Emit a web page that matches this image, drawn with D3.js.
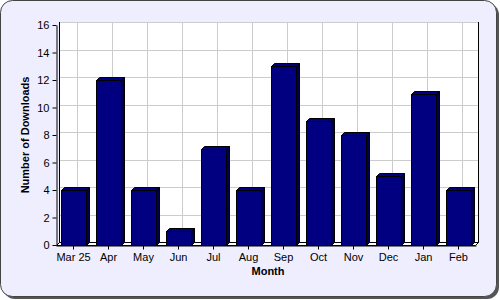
<!DOCTYPE html>
<html>
<head>
<meta charset="utf-8">
<script src="https://cdn.jsdelivr.net/npm/d3@7"></script>
<style>
  body { margin: 0; background: #fff; }
  svg { display: block; }
  text { font-family: "Liberation Sans", Arial, sans-serif; }
</style>
</head>
<body>
<div id="chart"></div>
<script>
var months = ["Mar 25", "Apr", "May", "Jun", "Jul", "Aug", "Sep", "Oct", "Nov", "Dec", "Jan", "Feb"];
var downloads = [4, 12, 4, 1, 7, 4, 13, 9, 8, 5, 11, 4];
var yTicks = [0, 2, 4, 6, 8, 10, 12, 14, 16];

var W = 500, H = 300;
var plotLeft = 56, plotRight = 476, plotTop = 25, plotBottom = 245;
var depth = 3;

var svg = d3.select("#chart").append("svg")
  .attr("width", W)
  .attr("height", H);

// frame with shadow
svg.append("rect")
  .attr("x", 3).attr("y", 3).attr("width", 496).attr("height", 296)
  .attr("rx", 12).attr("fill", "#555");
svg.append("rect")
  .attr("x", 0.5).attr("y", 0.5).attr("width", 496).attr("height", 296)
  .attr("rx", 12).attr("fill", "#eeeeff").attr("stroke", "#444").attr("stroke-width", 1);

var x = d3.scaleBand().domain(months).range([plotLeft, plotRight]).paddingInner(0.26).paddingOuter(0.13);
var xc = d3.scaleBand().domain(months).range([plotLeft, plotRight]);
var y = d3.scaleLinear().domain([0, 16]).range([plotBottom, plotTop]);

// back wall
svg.append("rect")
  .attr("x", plotLeft + depth + 0.5).attr("y", plotTop - depth + 0.5)
  .attr("width", plotRight - plotLeft - depth + 2).attr("height", plotBottom - plotTop)
  .attr("fill", "#fff").attr("stroke", "#000");

// grid
svg.append("g").selectAll("line").data(yTicks.slice(1))
  .enter().append("line")
  .attr("x1", plotLeft + depth + 1).attr("x2", plotRight + 2)
  .attr("y1", function(d){ return Math.round(y(d)) - depth + 0.5; })
  .attr("y2", function(d){ return Math.round(y(d)) - depth + 0.5; })
  .attr("stroke", "#cccccc");
svg.append("g").selectAll("line").data(months)
  .enter().append("line")
  .attr("x1", function(d){ return Math.round(xc(d) + xc.bandwidth() / 2) + depth + 0.5; })
  .attr("x2", function(d){ return Math.round(xc(d) + xc.bandwidth() / 2) + depth + 0.5; })
  .attr("y1", plotTop - depth + 1).attr("y2", plotBottom - depth)
  .attr("stroke", "#cccccc");

// floor
svg.append("path")
  .attr("d", "M" + (plotLeft + 0.5) + "," + (plotBottom + 0.5) + "L" + (plotLeft + depth + 0.5) + "," + (plotBottom - depth + 0.5) +
    "L" + (plotRight + 2.5) + "," + (plotBottom - depth + 0.5) + "L" + (plotRight - 0.5) + "," + (plotBottom + 0.5) + "Z")
  .attr("fill", "#fff").attr("stroke", "#000");

// bars
var bars = svg.append("g").selectAll("g").data(months).enter().append("g");
bars.each(function(m, i){
  var g = d3.select(this);
  var x0 = Math.round(x(m)) + 0.5, x1 = Math.round(x(m) + x.bandwidth()) + 0.5;
  var yt = Math.round(y(downloads[i])) + 0.5, yb = plotBottom + 0.5;
  // side
  g.append("path")
    .attr("d", "M" + x1 + "," + yt + "L" + (x1 + depth) + "," + (yt - depth) + "L" + (x1 + depth) + "," + (yb - depth) + "L" + x1 + "," + yb + "Z")
    .attr("fill", "#000050").attr("stroke", "#000");
  // top
  g.append("path")
    .attr("d", "M" + x0 + "," + yt + "L" + (x0 + depth) + "," + (yt - depth) + "L" + (x1 + depth) + "," + (yt - depth) + "L" + x1 + "," + yt + "Z")
    .attr("fill", "#000080").attr("stroke", "#000");
  // front
  g.append("rect")
    .attr("x", x0).attr("y", yt).attr("width", x1 - x0).attr("height", yb - yt)
    .attr("fill", "#000080").attr("stroke", "#000");
});

// axes
var yAxis = d3.axisLeft(y).tickValues(yTicks).tickSize(4).tickSizeOuter(0).tickPadding(3);
var gy = svg.append("g").attr("transform", "translate(" + (plotLeft + 0.5) + ",0)").call(yAxis);
var xAxis = d3.axisBottom(xc).tickSize(4).tickSizeOuter(0).tickPadding(4);
var gx = svg.append("g").attr("transform", "translate(0," + (plotBottom + 0.5) + ")").call(xAxis);
[gy, gx].forEach(function(g){
  g.selectAll("path").attr("stroke", "#000");
  g.selectAll("line").attr("stroke", "#000");
  g.selectAll("text").attr("fill", "#000").style("font-size", "11px")
    .style("font-family", "'Liberation Sans', Arial, sans-serif");
});

// axis titles
svg.append("text")
  .attr("transform", "translate(29," + ((plotTop + plotBottom) / 2) + ") rotate(-90)")
  .attr("text-anchor", "middle")
  .style("font-size", "11px").style("font-weight", "bold")
  .text("Number of Downloads");
svg.append("text")
  .attr("x", (plotLeft + plotRight) / 2 + 2).attr("y", 275)
  .attr("text-anchor", "middle")
  .style("font-size", "11px").style("font-weight", "bold")
  .text("Month");
</script>
</body>
</html>
